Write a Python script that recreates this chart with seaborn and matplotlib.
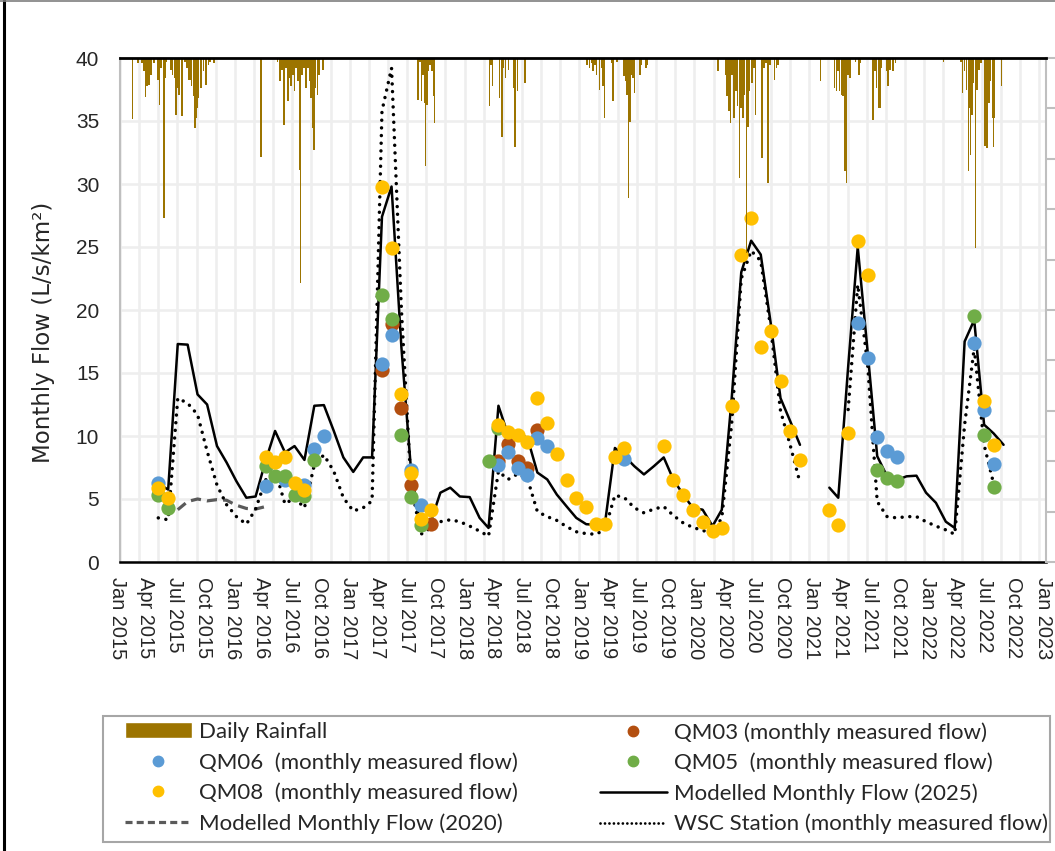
import matplotlib
matplotlib.use("Agg")
import numpy as np
import pandas as pd
import matplotlib.pyplot as plt
import matplotlib.dates as mdates
from matplotlib.lines import Line2D
from matplotlib.patches import Patch, Rectangle
from matplotlib.transforms import ScaledTranslation
import seaborn as sns

# ---- values ----
# daily rainfall (mm), plotted on an inverted secondary axis from the top
rain_dates = [
    "2015-02-10", "2015-02-26", "2015-03-12", "2015-03-17", "2015-03-23", "2015-03-28", "2015-04-02",
    "2015-04-09", "2015-04-19", "2015-04-30", "2015-05-05", "2015-05-10", "2015-05-19", "2015-05-23",
    "2015-05-28", "2015-06-11", "2015-06-16", "2015-06-22", "2015-06-27", "2015-07-01", "2015-07-06",
    "2015-07-15", "2015-07-25", "2015-07-31", "2015-08-05", "2015-08-10", "2015-08-15", "2015-08-21",
    "2015-08-25", "2015-08-29", "2015-09-02", "2015-09-06", "2015-09-14", "2015-09-21", "2015-09-30",
    "2015-10-07", "2015-10-12", "2015-10-25",
    "2016-03-21", "2016-05-12", "2016-05-20", "2016-05-26", "2016-06-02", "2016-06-08", "2016-06-14",
    "2016-06-19", "2016-06-24", "2016-06-29", "2016-07-05", "2016-07-10", "2016-07-15", "2016-07-20",
    "2016-07-24", "2016-07-29", "2016-08-03", "2016-08-10", "2016-08-16", "2016-08-21", "2016-08-26",
    "2016-09-01", "2016-09-05", "2016-09-09", "2016-09-15", "2016-09-20", "2016-10-02",
    "2017-07-29", "2017-08-04", "2017-08-09", "2017-08-14", "2017-08-19", "2017-08-22", "2017-08-27",
    "2017-09-01", "2017-09-06", "2017-09-12", "2017-09-17", "2017-09-20",
    "2018-03-12", "2018-03-17", "2018-03-22", "2018-04-12", "2018-04-20", "2018-04-25", "2018-05-02",
    "2018-05-11", "2018-05-27", "2018-06-01", "2018-06-08", "2018-07-02",
    "2019-01-14", "2019-01-21", "2019-01-28", "2019-02-02", "2019-02-07", "2019-02-12", "2019-02-22",
    "2019-02-28", "2019-03-05", "2019-03-10", "2019-04-01", "2019-04-05", "2019-04-18", "2019-05-11",
    "2019-05-15", "2019-05-20", "2019-05-24", "2019-05-29", "2019-06-02", "2019-06-08", "2019-06-13",
    "2019-06-29", "2019-07-04", "2019-07-19", "2019-07-24",
    "2020-03-02", "2020-03-26", "2020-03-31", "2020-04-06", "2020-04-11", "2020-04-16", "2020-04-21",
    "2020-04-27", "2020-05-02", "2020-05-09", "2020-05-14", "2020-05-20", "2020-05-25", "2020-05-31",
    "2020-06-05", "2020-06-10", "2020-06-18", "2020-06-23", "2020-06-28", "2020-07-19", "2020-07-26",
    "2020-08-01", "2020-08-06", "2020-08-14", "2020-08-27", "2020-09-02", "2020-09-08",
    "2021-01-20", "2021-03-05", "2021-03-11", "2021-03-16", "2021-03-21", "2021-03-27", "2021-04-01",
    "2021-04-06", "2021-04-11", "2021-04-16", "2021-04-22", "2021-05-10", "2021-05-20", "2021-05-26",
    "2021-07-05", "2021-07-10", "2021-07-15", "2021-07-21", "2021-07-26", "2021-07-30", "2021-08-16",
    "2021-08-21", "2021-08-26", "2021-09-06", "2021-09-13",
    "2022-02-11", "2022-04-07", "2022-04-12", "2022-04-19", "2022-04-25", "2022-05-01", "2022-05-05",
    "2022-05-08", "2022-05-12", "2022-05-17", "2022-05-24", "2022-05-29", "2022-06-04", "2022-06-09",
    "2022-06-22", "2022-06-28", "2022-07-05", "2022-07-10", "2022-07-16", "2022-07-19", "2022-07-23",
    "2022-08-13",
]
rain_mm = [
    12.1, 1.0, 1.0, 2.6, 7.8, 5.6, 5.3, 3.3, 1.0, 4.3, 9.3, 2.0, 31.8, 4.0,
    0.7, 2.3, 3.3, 4.0, 11.3, 6.0, 7.3, 11.6, 0.7, 2.0, 4.3, 4.3, 5.6, 7.6,
    13.9, 11.9, 9.9, 8.0, 6.0, 2.6, 5.3, 1.3, 0.7, 1.0,
    19.7, 0.7, 4.6, 2.3, 13.2, 2.0, 8.6, 4.0, 5.6, 3.3, 6.6, 2.0, 4.6, 22.2,
    44.6, 3.3, 2.0, 6.0, 2.0, 4.6, 8.0, 13.9, 18.2, 6.0, 7.3, 3.3, 2.3,
    8.3, 0.7, 8.6, 3.3, 8.9, 21.5, 9.3, 2.6, 1.3, 2.6, 7.6, 12.9,
    9.6, 1.3, 5.6, 8.0, 15.6, 2.0, 4.0, 2.3, 6.0, 17.7, 6.6, 5.0,
    1.3, 2.0, 1.0, 2.6, 1.3, 3.3, 6.3, 2.0, 5.6, 11.9, 1.0, 8.6, 0.7, 3.6,
    4.6, 7.3, 27.7, 12.6, 3.3, 4.0, 7.0, 3.3, 1.3, 2.0, 1.3,
    2.6, 3.3, 7.6, 10.6, 12.9, 3.3, 11.9, 6.6, 9.6, 23.8, 10.0, 11.9, 7.3, 38.7,
    13.6, 6.6, 5.0, 2.0, 11.3, 19.9, 2.0, 1.0, 24.8, 1.3, 4.3, 2.0, 1.3,
    4.6, 6.0, 6.6, 2.6, 6.6, 7.3, 7.6, 22.5, 24.8, 3.3, 4.0, 0.7, 3.3, 1.0,
    12.3, 2.6, 6.0, 10.0, 9.9, 2.0, 2.6, 5.6, 2.3, 2.6, 1.0,
    0.7, 0.7, 7.0, 2.6, 6.3, 22.5, 10.0, 19.2, 11.3, 5.0, 37.6, 6.3, 2.3, 1.0,
    17.5, 17.9, 8.9, 4.6, 11.9, 17.7, 11.9, 5.6,
]

# monthly series, May 2015 .. Aug 2022 (NaN = no value)
nan = np.nan
model_2025 = [
    6.2, 5.75, 17.3, 17.25, 13.3, 12.5, 9.2, 7.9,                      # 2015 May-Dec
    6.4, 5.1, 5.2, 8.0, 10.4, 8.7, 9.2, 8.1, 12.4, 12.45, 10.4, 8.3,   # 2016
    7.15, 8.3, 8.3, 27.4, 29.8, 17.0, 7.3, 2.6, 3.2, 5.5, 5.9, 5.2,    # 2017
    5.15, 3.5, 2.7, 12.4, 10.1, 10.2, 9.85, 7.1, 6.55, 5.35, 4.4, 3.5, # 2018
    3.0, 2.95, 3.1, 9.05, 8.4, 7.6, 6.95, 7.6, 8.3, 6.55, 5.35, 4.3,   # 2019
    4.15, 2.85, 4.15, 13.0, 23.0, 25.5, 24.4, 19.0, 13.0, 11.2, 9.3, nan,  # 2020
    nan, 5.9, 5.1, 15.5, 25.0, 16.7, 8.4, 6.8, 6.5, 6.8, 6.85, 5.5,    # 2021
    4.7, 3.2, 2.7, 17.5, 19.2, 10.9, 10.2, 9.3,                        # 2022 Jan-Aug
]
wsc_station = [
    3.5, 3.35, 13.0, 12.6, 11.7, 8.8, 6.1, 4.55,
    3.6, 3.0, 4.2, 6.5, 7.3, 4.6, 5.1, 4.3, 7.7, 8.5, 7.2, 5.1,
    4.05, 4.3, 4.85, 35.8, 39.2, 20.0, 6.1, 2.2, 2.7, 3.2, 3.35, 3.2,
    2.85, 2.45, 2.05, 7.2, 6.55, 7.0, 6.6, 4.0, 3.6, 3.3, 2.8, 2.4,
    2.25, 2.2, 2.6, 5.3, 5.1, 4.3, 3.9, 4.2, 4.4, 3.7, 3.1, 2.75,
    2.5, 2.3, 3.5, 11.0, 22.5, 24.7, 23.9, 18.6, 12.0, 9.3, 6.3, nan,
    nan, nan, nan, 12.1, 22.0, 15.7, 4.8, 3.6, 3.5, 3.6, 3.6, 3.2,
    2.85, 2.55, 2.2, 10.9, 17.0, 9.3, 6.2, nan,
]
# older model run, Jul 2015 .. Apr 2016
model_2020 = [4.15, 4.8, 5.0, 4.85, 4.95, 4.9, 4.5, 4.25, 4.2, 4.4]

# monthly measured flows at the stations
qm03_months = ["2017-04", "2017-05", "2017-06", "2017-07", "2017-09",
               "2018-04", "2018-05", "2018-06", "2018-07", "2018-08"]
qm03_flow = [15.2, 18.9, 12.2, 6.1, 3.0, 8.05, 9.4, 8.05, 7.5, 10.5]

qm06_months = ["2015-05", "2016-04", "2016-06", "2016-08", "2016-09", "2016-10",
               "2017-04", "2017-05", "2017-07", "2017-08",
               "2018-04", "2018-05", "2018-06", "2018-07", "2018-08", "2018-09", "2019-05",
               "2021-05", "2021-06", "2021-07", "2021-08", "2021-09",
               "2022-05", "2022-06", "2022-07"]
qm06_flow = [6.3, 6.0, 6.5, 6.1, 9.0, 10.0,
             15.7, 18.0, 7.3, 4.5,
             7.7, 8.7, 7.5, 6.9, 9.85, 9.2, 8.2,
             19.0, 16.2, 9.9, 8.8, 8.3,
             17.35, 12.05, 7.8]

qm05_months = ["2015-05", "2015-06", "2016-04", "2016-05", "2016-06", "2016-07", "2016-08", "2016-09",
               "2017-04", "2017-05", "2017-06", "2017-07", "2017-08", "2018-03", "2018-04",
               "2021-07", "2021-08", "2021-09", "2022-05", "2022-06", "2022-07"]
qm05_flow = [5.35, 4.3, 7.6, 6.8, 6.8, 5.35, 5.2, 8.1,
             21.2, 19.3, 10.1, 5.15, 2.95, 8.0, 10.6,
             7.3, 6.7, 6.45, 19.5, 10.05, 5.95]

qm08_months = ["2015-05", "2015-06", "2016-04", "2016-05", "2016-06", "2016-07", "2016-08",
               "2017-04", "2017-05", "2017-06", "2017-07", "2017-08", "2017-09",
               "2018-04", "2018-05", "2018-06", "2018-07", "2018-08", "2018-09", "2018-10",
               "2018-11", "2018-12", "2019-01", "2019-02", "2019-03", "2019-04", "2019-05",
               "2019-09", "2019-10", "2019-11", "2019-12", "2020-01", "2020-02", "2020-03",
               "2020-04", "2020-05", "2020-06", "2020-07", "2020-08", "2020-09", "2020-10",
               "2020-11", "2021-02", "2021-03", "2021-04", "2021-05", "2021-06",
               "2022-06", "2022-07"]
qm08_flow = [5.9, 5.1, 8.3, 7.9, 8.3, 6.3, 5.75,
             29.8, 24.9, 13.3, 7.1, 3.4, 4.1,
             10.9, 10.3, 10.1, 9.5, 13.0, 11.0, 8.6,
             6.5, 5.1, 4.4, 3.0, 3.0, 8.3, 9.05,
             9.2, 6.5, 5.35, 4.15, 3.2, 2.5, 2.7,
             12.4, 24.4, 27.3, 17.05, 18.3, 14.4, 10.4,
             8.1, 4.1, 2.9, 10.25, 25.5, 22.75,
             12.8, 9.3]

# ---- style ----
RAIN = "#9C7400"
C_QM03, C_QM06, C_QM05, C_QM08 = "#B34F10", "#5B9BD5", "#70AD47", "#FFC000"
DASHED_GREY = "#5A5A5A"
GRID = "#EEEEEE"

sns.set_style("white")
plt.rcParams["font.family"] = ["Liberation Sans", "DejaVu Sans"]

W, H = 1055, 851
fig = plt.figure(figsize=(W / 100, H / 100), dpi=100)
rect = [120 / W, 1 - 562 / H, 926 / W, 504 / H]

ax = fig.add_axes(rect, zorder=1)    # flows (primary axes)
axr = fig.add_axes(rect, zorder=2)   # rainfall + date labels
axr.patch.set_alpha(0)

t0 = pd.Timestamp("2015-01-01")


def segments(dates, values):
    df = pd.DataFrame({"date": pd.to_datetime(dates), "flow": values})
    df["seg"] = df["flow"].isna().cumsum()
    return df.dropna()


months = pd.date_range("2015-05-01", "2022-08-01", freq="MS")
sns.lineplot(data=segments(pd.date_range("2015-07-01", "2016-04-01", freq="MS"), model_2020),
             x="date", y="flow", units="seg", estimator=None, color=DASHED_GREY,
             lw=2.3, linestyle=(0, (3.2, 1.9)), ax=ax, legend=False)
sns.lineplot(data=segments(months, wsc_station), x="date", y="flow", units="seg",
             estimator=None, color="black", lw=2.5, linestyle=(0, (0.01, 2.2)),
             dash_capstyle="round", ax=ax, legend=False)
sns.lineplot(data=segments(months, model_2025), x="date", y="flow", units="seg",
             estimator=None, color="black", lw=1.8, ax=ax, legend=False)

for mths, vals, col in [(qm03_months, qm03_flow, C_QM03), (qm06_months, qm06_flow, C_QM06),
                        (qm05_months, qm05_flow, C_QM05), (qm08_months, qm08_flow, C_QM08)]:
    sns.scatterplot(x=pd.to_datetime(mths), y=vals, color=col, s=105, linewidth=0,
                    ax=ax, zorder=5, legend=False)

# primary axes: 0-40, gridlines every 60 days like the original
ax.set_xlim(t0, t0 + pd.Timedelta(days=2902))
ax.set_xticks(pd.date_range(t0, periods=49, freq="60D"))
ax.set_xticklabels([])
ax.set_ylim(0, 40)
ax.set_yticks(range(0, 41, 5))
ax.grid(True, color=GRID, lw=1.9)
ax.set_axisbelow(True)
ax.tick_params(axis="x", length=7, width=1.5, color="black", direction="out")
ax.tick_params(axis="y", length=0, pad=15, labelsize=15, labelcolor="#262626")
for s in ["top", "right"]:
    ax.spines[s].set_visible(False)
ax.spines["bottom"].set_color("black")
ax.spines["bottom"].set_linewidth(1.8)
ax.spines["left"].set_color("#BFBFBF")
ax.spines["left"].set_linewidth(1.5)
ax.set_xlabel("")
ax.set_ylabel("Monthly Flow (L/s/km²)", fontsize=16.5, family=["DejaVu Sans"])
ax.yaxis.set_label_coords(-0.070, 0.455)

# rainfall axes
axr.bar(pd.to_datetime(rain_dates), rain_mm, width=5, color=RAIN, linewidth=0)
axr.set_xlim(t0, pd.Timestamp("2023-01-01"))
axr.set_ylim(100, 0)
axr.xaxis.set_major_locator(mdates.MonthLocator(bymonth=[1, 4, 7, 10]))
axr.xaxis.set_major_formatter(mdates.DateFormatter("%b %Y"))
axr.tick_params(axis="x", length=0, pad=11, labelsize=14.4)
shift = ScaledTranslation(-3 / 100, 0, fig.dpi_scale_trans)
for lab in axr.get_xticklabels():
    lab.set_rotation(270)
    lab.set_ha("center")
    lab.set_va("top")
    lab.set_transform(lab.get_transform() + shift)
axr.yaxis.tick_right()
axr.set_yticks(range(0, 101, 10))
axr.set_yticklabels([])
axr.tick_params(axis="y", length=7, width=1.5, color="#BFBFBF", direction="out")
for s in ["left", "bottom"]:
    axr.spines[s].set_visible(False)
axr.spines["top"].set_color("black")
axr.spines["top"].set_linewidth(2.0)
axr.spines["right"].set_color("#BFBFBF")
axr.spines["right"].set_linewidth(1.5)

# legend (two columns, row order like the original)
col1 = [
    Patch(facecolor=RAIN, label="Daily Rainfall"),
    Line2D([], [], marker="o", ls="none", color=C_QM06, ms=7.5, label="QM06  (monthly measured flow)"),
    Line2D([], [], marker="o", ls="none", color=C_QM08, ms=7.5, label="QM08  (monthly measured flow)"),
    Line2D([], [], color=DASHED_GREY, lw=2.3, ls=(0, (2.2, 1.3)), label="Modelled Monthly Flow (2020)"),
]
col2 = [
    Line2D([], [], marker="o", ls="none", color=C_QM03, ms=7.5, label="QM03 (monthly measured flow)"),
    Line2D([], [], marker="o", ls="none", color=C_QM05, ms=7.5, label="QM05  (monthly measured flow)"),
    Line2D([], [], color="black", lw=1.8, label="Modelled Monthly Flow (2025)"),
    Line2D([], [], color="black", lw=2.0, ls=(0, (0.01, 1.6)), dash_capstyle="round",
           label="WSC Station (monthly measured flow)"),
]
leg_kw = dict(loc="upper left", frameon=False, borderpad=0, borderaxespad=0,
              handlelength=3.0, handletextpad=0.32, labelspacing=0.45,
              prop={"family": "Lato", "size": 16})
fig.legend(handles=col1, bbox_to_anchor=(125 / W, 1 - 722 / H), **leg_kw)
fig.legend(handles=col2, bbox_to_anchor=(600 / W, 1 - 722 / H), **leg_kw)
fig.patches.append(Rectangle((103 / W, 1 - 842 / H), 947 / W, 126 / H, transform=fig.transFigure,
                             fill=False, ec="#A6A6A6", lw=1.5))

# outer frame remnants of the original chart
fig.add_artist(Line2D([4 / W, 4 / W], [0, 1], color="black", lw=2.2, transform=fig.transFigure))
fig.add_artist(Line2D([0, 1], [1 - 1 / H, 1 - 1 / H], color="#7F7F7F", lw=1.2, transform=fig.transFigure))

fig.savefig("out.png", dpi=100)
